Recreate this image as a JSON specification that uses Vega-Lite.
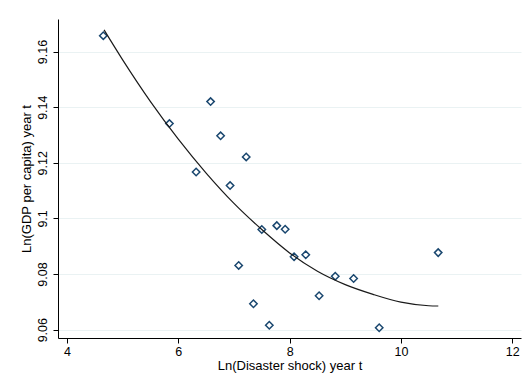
{
  "$schema": "https://vega.github.io/schema/vega-lite/v6.json",
  "width": 463,
  "height": 319,
  "autosize": {"type": "none"},
  "padding": {"left": 58, "top": 19, "right": 6, "bottom": 49},
  "background": "white",
  "config": {"view": {"stroke": null}, "font": "Liberation Sans"},
  "layer": [
    {
      "data": {
        "values": [
          {"x": 4.652, "y": 9.1657},
          {"x": 5.84, "y": 9.1341},
          {"x": 6.32, "y": 9.1167},
          {"x": 6.58, "y": 9.142},
          {"x": 6.76, "y": 9.1297},
          {"x": 6.93, "y": 9.1118},
          {"x": 7.085, "y": 9.0831},
          {"x": 7.22, "y": 9.1221},
          {"x": 7.35, "y": 9.0693},
          {"x": 7.5, "y": 9.096},
          {"x": 7.635, "y": 9.0616},
          {"x": 7.77, "y": 9.0974},
          {"x": 7.92, "y": 9.0961},
          {"x": 8.08, "y": 9.0862},
          {"x": 8.29, "y": 9.0869},
          {"x": 8.53, "y": 9.0722},
          {"x": 8.82, "y": 9.0792},
          {"x": 9.15, "y": 9.0784},
          {"x": 9.61, "y": 9.0607},
          {"x": 10.67, "y": 9.0877}
        ]
      },
      "mark": {"type": "point", "shape": "diamond", "size": 55, "filled": false, "color": "#1a476f", "strokeWidth": 1.5, "opacity": 1},
      "encoding": {
        "x": {
          "field": "x", "type": "quantitative",
          "scale": {"domain": [3.838, 12.158], "nice": false, "zero": false},
          "axis": {
            "values": [4, 6, 8, 10, 12], "format": "~g", "grid": false,
            "domainColor": "#000", "tickColor": "#000", "tickSize": 5,
            "labelFontSize": 12.5, "labelColor": "#000", "labelPadding": 2,
            "title": "Ln(Disaster shock) year t", "titleFontSize": 13,
            "titleFontWeight": "normal", "titleColor": "#000", "titlePadding": 2
          }
        },
        "y": {
          "field": "y", "type": "quantitative",
          "scale": {"domain": [9.057, 9.1717], "nice": false, "zero": false},
          "axis": {
            "values": [9.06, 9.08, 9.1, 9.12, 9.14, 9.16], "format": "~g",
            "grid": true, "gridColor": "#eaf2f3", "gridWidth": 1,
            "domainColor": "#000", "tickColor": "#000", "tickSize": 5,
            "labelFontSize": 12.5, "labelColor": "#000", "labelAngle": -90,
            "labelAlign": "center", "labelBaseline": "bottom", "labelPadding": 4,
            "title": "Ln(GDP per capita) year t", "titleFontSize": 13,
            "titleFontWeight": "normal", "titleColor": "#000", "titlePadding": 3
          }
        }
      }
    },
    {
      "data": {
        "values": [
          {"x": 4.665, "y": 9.1678},
          {"x": 5.0, "y": 9.157},
          {"x": 5.5, "y": 9.142},
          {"x": 6.0, "y": 9.1285},
          {"x": 6.5, "y": 9.1163},
          {"x": 7.0, "y": 9.1054},
          {"x": 7.5, "y": 9.096},
          {"x": 8.0, "y": 9.0876},
          {"x": 8.5, "y": 9.081},
          {"x": 9.0, "y": 9.0762},
          {"x": 9.5, "y": 9.0727},
          {"x": 10.0, "y": 9.0699},
          {"x": 10.5, "y": 9.0686},
          {"x": 10.672, "y": 9.0685}
        ]
      },
      "mark": {"type": "line", "color": "#1a1a1a", "strokeWidth": 1.2, "interpolate": "monotone"},
      "encoding": {
        "x": {"field": "x", "type": "quantitative"},
        "y": {"field": "y", "type": "quantitative"}
      }
    }
  ]
}
